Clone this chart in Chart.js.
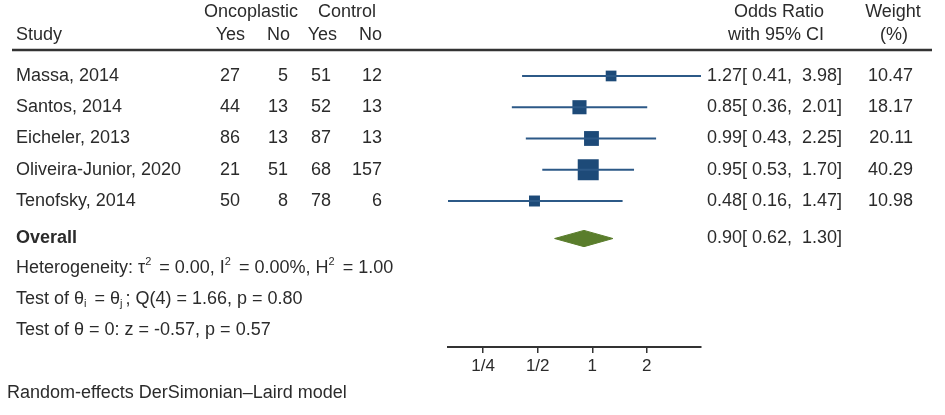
<!DOCTYPE html>
<html>
<head>
<meta charset="utf-8">
<script src="https://cdn.jsdelivr.net/npm/chart.js@4.4.1/dist/chart.umd.min.js"></script>
<style>
  html, body { margin: 0; padding: 0; background: #fff; }
  #wrap { width: 945px; height: 415px; }
</style>
</head>
<body>
<div id="wrap"><canvas id="forest" width="945" height="415"></canvas></div>
<script>
// study data //
////////////////
var studies = ["Massa, 2014", "Santos, 2014", "Eicheler, 2013", "Oliveira-Junior, 2020", "Tenofsky, 2014"]
var oncoYes = [27, 44, 86, 21, 50]
var oncoNo = [5, 13, 13, 51, 8]
var ctrlYes = [51, 52, 87, 68, 78]
var ctrlNo = [12, 13, 13, 157, 6]
var orEst = [1.27, 0.85, 0.99, 0.95, 0.48]
var ciLow = [0.41, 0.36, 0.43, 0.53, 0.16]
var ciHigh = [3.98, 2.01, 2.25, 1.70, 1.47]
var weights = [10.47, 18.17, 20.11, 40.29, 10.98]

var overallOR = 0.90
var overallLow = 0.62
var overallHigh = 1.30

var xTicks = [0.25, 0.5, 1, 2]
var xTickLabels = ["1/4", "1/2", "1", "2"]

var FONT = '"Liberation Sans", Arial, sans-serif'
var TEXT = "#2b2b2b"
var BLUE = "#1d4a78"
var GREEN = "#5a7d2c"

var overallRow = studies.length + 1.2

// datasets //
//////////////
var datasets = []

// CI lines
for (var i = 0; i < studies.length; i++) {
    datasets.push({
        type: "line",
        data: [{x: ciLow[i], y: i + 1}, {x: ciHigh[i], y: i + 1}],
        borderColor: "#2c5987",
        borderWidth: 2,
        pointRadius: 0,
        fill: false
    })
}

// weight boxes (area ~ weight)
var maxW = Math.max.apply(null, weights)
datasets.push({
    type: "scatter",
    data: orEst.map(function (v, i) { return {x: v, y: i + 1} }),
    pointStyle: "rect",
    pointRadius: weights.map(function (w) { return 21 * Math.sqrt(w / maxW) / Math.SQRT2 }),
    backgroundColor: BLUE,
    borderColor: BLUE,
    borderWidth: 0
})

// overall diamond
var dh = 0.26
datasets.push({
    type: "line",
    data: [
        {x: overallLow, y: overallRow},
        {x: overallOR, y: overallRow - dh},
        {x: overallHigh, y: overallRow},
        {x: overallOR, y: overallRow + dh},
        {x: overallLow, y: overallRow}
    ],
    borderColor: GREEN,
    backgroundColor: GREEN,
    borderWidth: 1,
    pointRadius: 0,
    tension: 0,
    fill: "shape"
})

// text around the plot //
//////////////////////////
function txt(ctx, s, x, y, align, bold, size) {
    ctx.font = (bold ? "bold " : "") + (size || 18) + "px " + FONT
    ctx.textAlign = align || "left"
    ctx.textBaseline = "middle"
    ctx.fillStyle = TEXT
    ctx.fillText(s, x, y)
}

// draws [text, "sup"|"sub"|""] pieces one after another
function rich(ctx, parts, x, y) {
    ctx.textBaseline = "middle"
    ctx.textAlign = "left"
    ctx.fillStyle = TEXT
    parts.forEach(function (p) {
        var small = p[1] === "sup" || p[1] === "sub"
        ctx.font = (small ? 11 : 18) + "px " + FONT
        var dy = p[1] === "sup" ? -6 : (p[1] === "sub" ? 5 : 0)
        ctx.fillText(p[0], x, y + dy)
        x += ctx.measureText(p[0]).width + (small ? 3 : 0)
    })
}

function orText(e, l, h) {
    return e.toFixed(2) + "[ " + l.toFixed(2) + ",  " + h.toFixed(2) + "]"
}

var tablePlugin = {
    id: "table",
    afterDraw: function (chart) {
        var ctx = chart.ctx
        var ys = chart.scales.y
        ctx.save()

        // header
        txt(ctx, "Oncoplastic", 251, 12, "center")
        txt(ctx, "Control", 347, 12, "center")
        txt(ctx, "Odds Ratio", 779, 12, "center")
        txt(ctx, "Weight", 893, 12, "center")
        txt(ctx, "Study", 16, 35)
        txt(ctx, "Yes", 245, 35, "right")
        txt(ctx, "No", 290, 35, "right")
        txt(ctx, "Yes", 337, 35, "right")
        txt(ctx, "No", 382, 35, "right")
        txt(ctx, "with 95% CI", 776, 35, "center")
        txt(ctx, "(%)", 894, 35, "center")

        ctx.strokeStyle = "#333"
        ctx.lineWidth = 2.5
        ctx.beginPath()
        ctx.moveTo(12, 50)
        ctx.lineTo(932, 50)
        ctx.stroke()

        // rows
        for (var i = 0; i < studies.length; i++) {
            var y = ys.getPixelForValue(i + 1)
            txt(ctx, studies[i], 16, y)
            txt(ctx, String(oncoYes[i]), 240, y, "right")
            txt(ctx, String(oncoNo[i]), 288, y, "right")
            txt(ctx, String(ctrlYes[i]), 331, y, "right")
            txt(ctx, String(ctrlNo[i]), 382, y, "right")
            txt(ctx, orText(orEst[i], ciLow[i], ciHigh[i]), 707, y)
            txt(ctx, weights[i].toFixed(2), 913, y, "right")
        }

        var yo = ys.getPixelForValue(overallRow)
        txt(ctx, "Overall", 16, yo, "left", true)
        txt(ctx, orText(overallOR, overallLow, overallHigh), 707, yo)

        // notes
        rich(ctx, [["Heterogeneity: \u03c4", ""], ["2", "sup"], [" = 0.00, I", ""], ["2", "sup"],
                   [" = 0.00%, H", ""], ["2", "sup"], [" = 1.00", ""]], 16, 268)
        rich(ctx, [["Test of \u03b8", ""], ["i", "sub"], [" = \u03b8", ""], ["j", "sub"],
                   ["; Q(4) = 1.66, p = 0.80", ""]], 16, 299)
        rich(ctx, [["Test of \u03b8 = 0: z = -0.57, p = 0.57", ""]], 16, 330)
        txt(ctx, "Random-effects DerSimonian\u2013Laird model", 7, 393)

        ctx.restore()
    }
}

var chart = new Chart(document.getElementById("forest"), {
    data: { datasets: datasets },
    options: {
        responsive: false,
        animation: false,
        events: [],
        layout: { autoPadding: false, padding: { left: 448, right: 244, top: 0, bottom: 0 } },
        plugins: {
            legend: { display: false },
            tooltip: { enabled: false }
        },
        scales: {
            x: {
                type: "logarithmic",
                bounds: "data",
                min: Math.min.apply(null, ciLow),
                max: Math.max.apply(null, ciHigh),
                afterBuildTicks: function (scale) {
                    scale.ticks = xTicks.map(function (v) { return {value: v} })
                },
                afterFit: function (scale) { scale.height = 68 },
                ticks: {
                    autoSkip: false,
                    maxRotation: 0,
                    padding: 3,
                    color: TEXT,
                    font: { family: FONT, size: 17 },
                    callback: function (v) { return xTickLabels[xTicks.indexOf(v)] }
                },
                grid: { drawOnChartArea: false, drawTicks: true, tickLength: 6, color: "#333", lineWidth: 1.5 },
                border: { display: true, color: "#333", width: 2 }
            },
            y: {
                type: "linear",
                reverse: true,
                min: -1.43,
                max: 9.67,
                display: false
            }
        }
    },
    plugins: [tablePlugin]
})
</script>
</body>
</html>
